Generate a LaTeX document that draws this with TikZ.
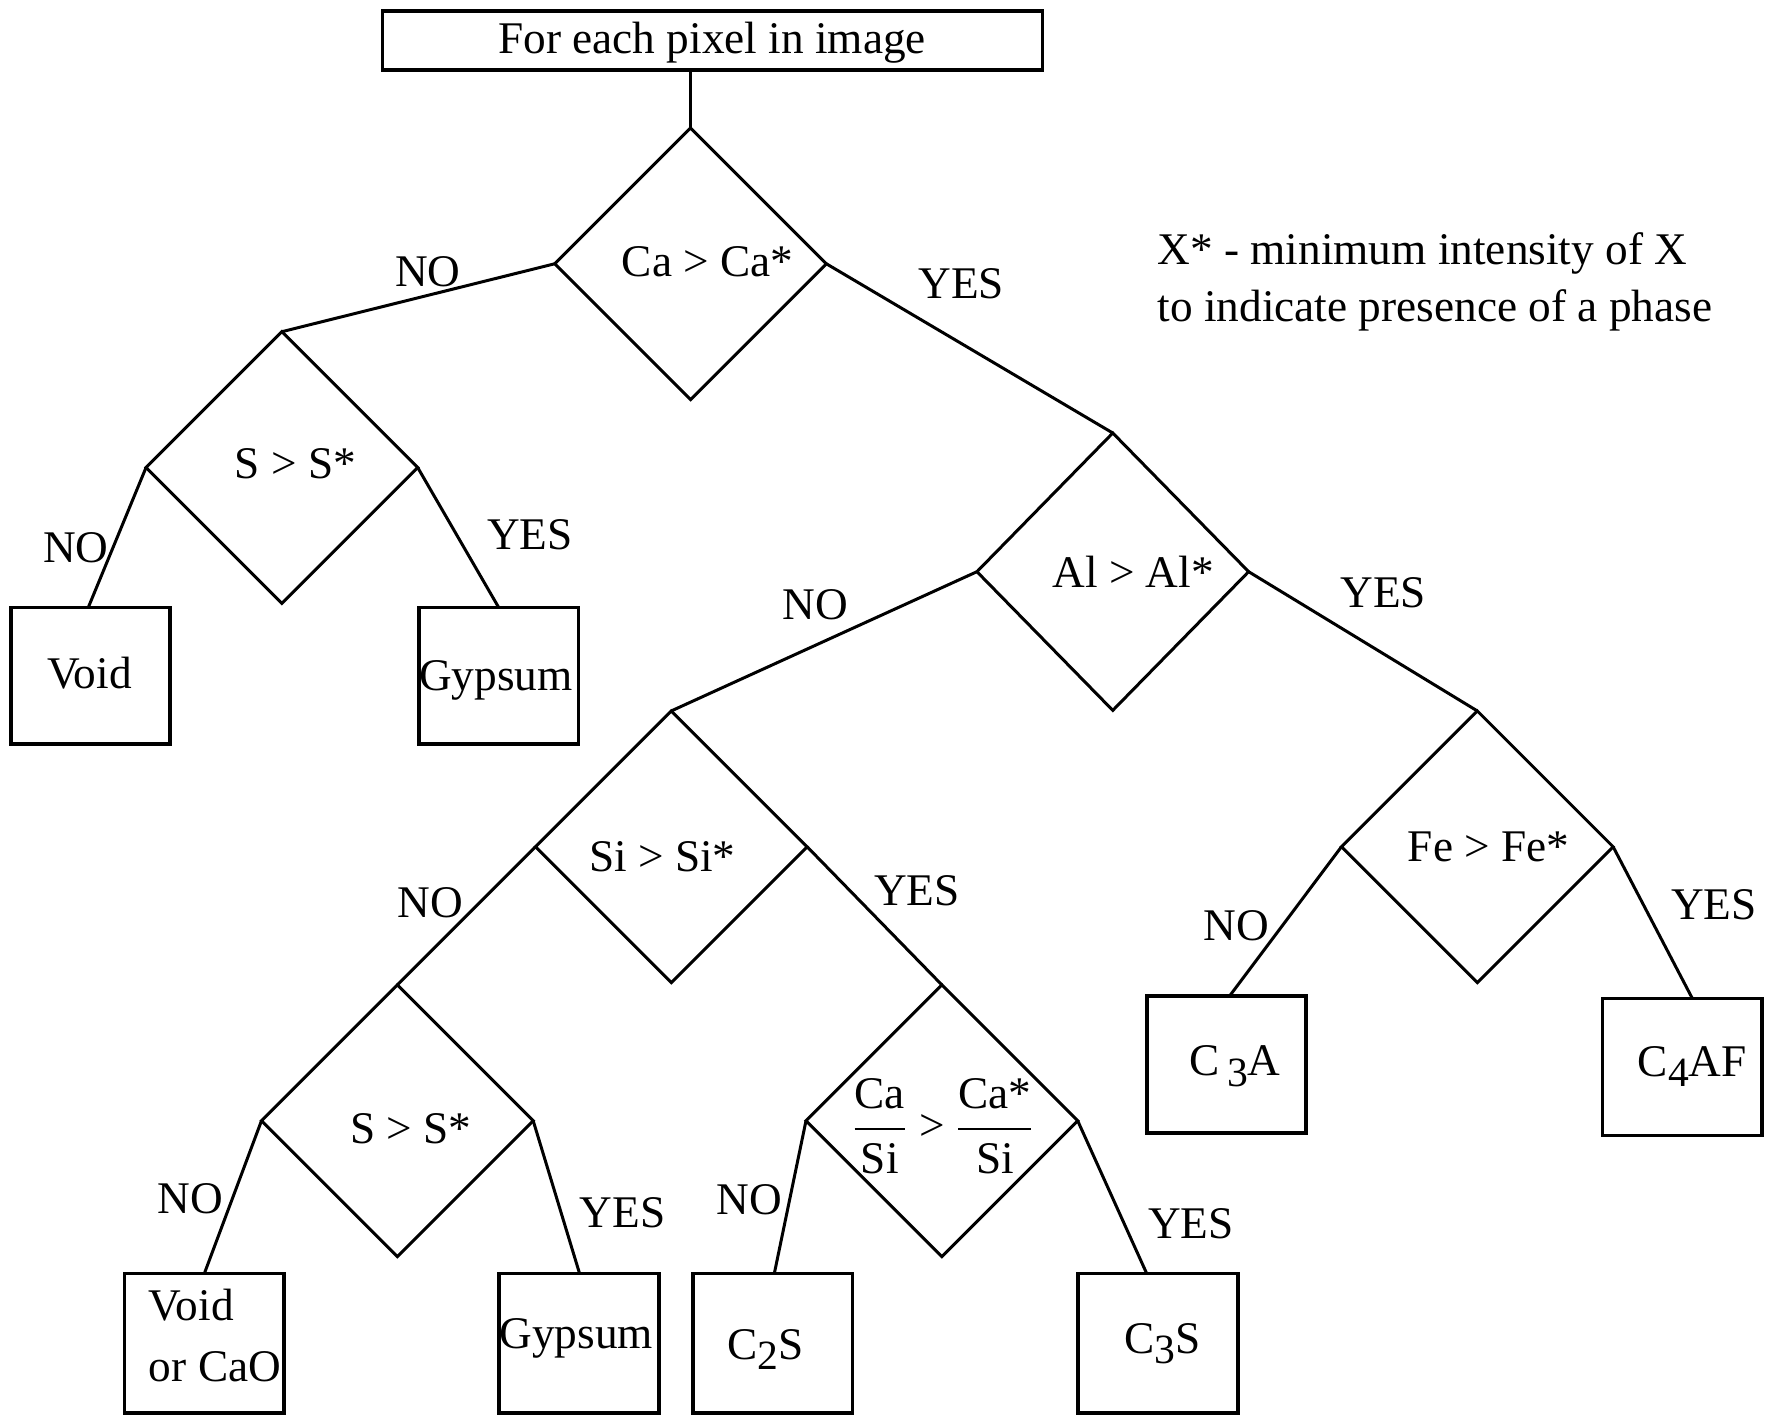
\documentclass[tikz,border=0pt]{standalone}
\usepackage{fontspec}
\setmainfont{Liberation Serif}
\usetikzlibrary{shapes.geometric,calc}
% lowered digit used in the cement phase names
\newcommand\lowsub[1]{\raisebox{-0.5ex}{\fontsize{12.5}{12}\selectfont #1}}
% stacked ratio with a bar as wide as its text
\newcommand\ratiofrac[2]{{\nulldelimiterspace=0pt$\displaystyle\frac{\hbox{#1}}{\hbox{#2}}$}}

\begin{document}
\begin{tikzpicture}[x=0.34pt,y=-0.34pt,
  every node/.style={font=\fontsize{13.6}{16}\selectfont},
  link/.style={line width=0.9pt},
  test/.style={draw, line width=0.9pt, shape=diamond, minimum width=81.6pt,
    minimum height=81.6pt, inner sep=0pt, outer sep=0pt},
  phase/.style={draw, line width=1.1pt, rectangle, minimum width=47.9pt,
    minimum height=41.1pt, inner sep=0pt, outer sep=0pt},
  txt/.style={inner sep=0pt}]

\useasboundingbox (0,0) rectangle (1568,1252);

% start box
\node[phase, minimum width=198.2pt, minimum height=17.7pt] (start) at (629.5,36) {};
\node[txt] (starttxt) at (629,38) {For each pixel in image};

% decision diamonds
\node[test] (ca) at (610,233) {};
\node[test] (s1) at (249,413) {};
\node[test, minimum height=83.3pt] (al) at (983,505) {};
\node[test] (si) at (593,748) {};
\node[test] (fe) at (1305,748) {};
\node[test] (s2) at (351,990) {};
\node[test] (ratio) at (832,990) {};

\node[txt] (catxt) at (625,231) {Ca > Ca*};
\node[txt] (s1txt) at (261,410) {S > S*};
\node[txt] (altxt) at (1001,505) {Al > Al*};
\node[txt] (sitxt) at (585,757) {Si > Si*};
\node[txt] (fetxt) at (1315,748) {Fe > Fe*};
\node[txt] (s2txt) at (363,997) {S > S*};
\node[txt] (ratiotxt) at (833,995)
  {\ratiofrac{Ca}{Si}\kern4.4pt>\kern4pt\ratiofrac{Ca*}{Si}};

% phase boxes
\node[phase] (void) at (80,597) {};
\node[phase] (gyp1) at (440.5,597) {};
\node[phase] (c3a) at (1083.5,940.5) {};
\node[phase] (c4af) at (1486,942.5) {};
\node[phase, minimum height=41.8pt] (voidcao) at (180.5,1186.5) {};
\node[phase, minimum height=41.8pt] (gyp2) at (511.5,1186.5) {};
\node[phase, minimum height=41.8pt] (c2s) at (682.5,1186.5) {};
\node[phase, minimum height=41.8pt] (c3s) at (1023,1186.5) {};

\node[txt] (voidtxt) at (79,595) {Void};
\node[txt] (gyp1txt) at (438,601) {Gypsum};
\node[txt] (c3atxt) at (1091,942) {C\,\lowsub{3}A};
\node[txt] (c4aftxt) at (1495,942) {C\lowsub{4}AF};
\node[txt, anchor=west] (voidcao1) at (131,1153) {Void};
\node[txt, anchor=west] (voidcao2) at (131,1207) {or CaO};
\node[txt] (gyp2txt) at (509,1182) {Gypsum};
\node[txt] (c2stxt) at (676,1192) {C\lowsub{2}S};
\node[txt] (c3stxt) at (1027,1187) {C\lowsub{3}S};

% legend
\node[txt, anchor=west] (key1) at (1022,224) {X* - minimum intensity of X};
\node[txt, anchor=west] (key2) at (1022,274) {to indicate presence of a phase};

% connectors
\draw[link] (ca.north) -- (ca.north |- start.south);
\draw[link] (ca.west) -- (s1.north);
\draw[link] (ca.east) -- (al.north);
\draw[link] (s1.west) -- ($(void.north)+(-2,0)$);
\draw[link] (s1.east) -- (gyp1.north);
\draw[link] (al.west) -- (si.north);
\draw[link] (al.east) -- (fe.north);
\draw[link] (fe.west) -- ($(c3a.north)+(2.5,0)$);
\draw[link] (fe.east) -- ($(c4af.north)+(9,0)$);
\draw[link] (si.west) -- (s2.north);
\draw[link] (si.east) -- (ratio.north);
\draw[link] (s2.west) -- (voidcao.north);
\draw[link] (s2.east) -- ($(gyp2.north)+(0.5,0)$);
\draw[link] (ratio.west) -- ($(c2s.north)+(1.5,0)$);
\draw[link] (ratio.east) -- ($(c3s.north)+(-10,0)$);

% branch labels
\node[txt] (no1) at (378,240) {NO};
\node[txt] (yes1) at (849,251) {YES};
\node[txt] (no2) at (67,484) {NO};
\node[txt] (yes2) at (468,472) {YES};
\node[txt] (no3) at (720,534) {NO};
\node[txt] (yes3) at (1222,524) {YES};
\node[txt] (no4) at (380,797) {NO};
\node[txt] (yes4) at (810,787) {YES};
\node[txt] (no5) at (1092,818) {NO};
\node[txt] (yes5) at (1514,799) {YES};
\node[txt] (no6) at (168,1059) {NO};
\node[txt] (yes6) at (550,1071) {YES};
\node[txt] (no7) at (662,1060) {NO};
\node[txt] (yes7) at (1052,1081) {YES};
\end{tikzpicture}
\end{document}
